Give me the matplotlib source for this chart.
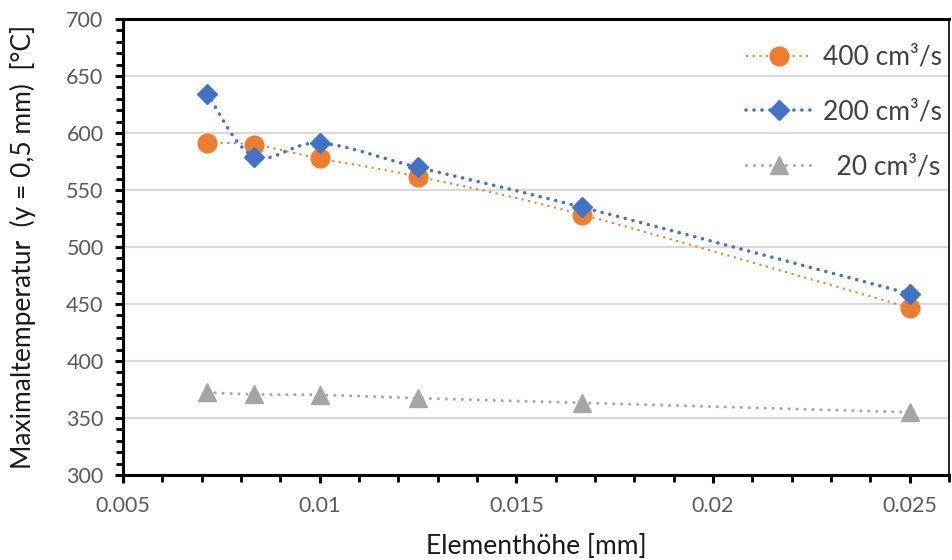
import numpy as np
import matplotlib
matplotlib.use("Agg")
import matplotlib.pyplot as plt
from matplotlib.ticker import MultipleLocator, FuncFormatter

plt.rcParams['font.family'] = ['Lato', 'DejaVu Sans']

# Element height [mm]
element_height = [0.00714, 0.00833, 0.01, 0.0125, 0.01667, 0.025]

# Maximum temperature at y = 0.5 mm [°C] per flow rate
t_400 = [591.5, 589.7, 577.7, 561.7, 528.4, 446.8]
t_200 = [634.6, 579.2, 591.2, 569.9, 534.9, 459.0]
t_20 = [372.4, 370.7, 370.3, 367.4, 363.3, 355.0]

series_labels = ["400 cm³/s", "200 cm³/s", "  20 cm³/s"]

x_label = "Elementhöhe [mm]"
y_label = "Maximaltemperatur  (y = 0,5 mm)  [°C]"

fig = plt.figure(figsize=(9.52, 5.6), dpi=100)
ax = fig.add_axes([123 / 952, 1 - 475 / 560, (949 - 123) / 952, (475 - 19) / 560])
ax.set_xlim(0.005, 0.026)
ax.set_ylim(300, 700)


def smooth(ax, xs, ys, n=40):
    """Bezier smoothing in display space (cardinal spline, tension 1/6)."""
    pts = ax.transData.transform(np.column_stack([xs, ys]))
    out = [pts[0]]
    m = len(pts)
    for i in range(m - 1):
        p0 = pts[i - 1] if i > 0 else pts[i]
        p1 = pts[i]
        p2 = pts[i + 1]
        p3 = pts[i + 2] if i + 2 < m else pts[i + 1]
        c1 = p1 + (p2 - p0) / 6.0
        c2 = p2 - (p3 - p1) / 6.0
        t = np.linspace(0, 1, n)[1:, None]
        seg = ((1 - t) ** 3) * p1 + 3 * ((1 - t) ** 2) * t * c1 + 3 * (1 - t) * t ** 2 * c2 + t ** 3 * p2
        out.extend(seg)
    out = np.array(out)
    data = ax.transData.inverted().transform(out)
    return data[:, 0], data[:, 1]


styles = [
    dict(color="#ED7D31", lw=1.5, ls=(0, (1.0, 2.2)), cap="butt", marker="o", ms=13.5),
    dict(color="#4472C4", lw=2.6, ls=(0, (0.01, 2.2)), cap="round", marker="D", ms=10.0),
    dict(color="#A5A5A5", lw=2.2, ls=(0, (0.01, 2.6)), cap="round", marker="^", ms=12.5),
]

handles = []
for ys, st, lab, z in zip([t_400, t_200, t_20], styles, series_labels, [3, 4, 5]):
    sx, sy = smooth(ax, element_height, ys)
    ax.plot(sx, sy, color=st["color"], lw=st["lw"], ls=st["ls"],
            dash_capstyle=st["cap"], zorder=z)
    ax.plot(element_height, ys, ls="none", marker=st["marker"], ms=st["ms"],
            color=st["color"], mec=st["color"], zorder=z + 0.5)
    h, = ax.plot([], [], color=st["color"], lw=st["lw"], ls=st["ls"],
                 dash_capstyle=st["cap"], marker=st["marker"], ms=st["ms"],
                 mec=st["color"], label=lab)
    handles.append(h)

ax.yaxis.set_major_locator(MultipleLocator(50))
ax.yaxis.set_minor_locator(MultipleLocator(10))
ax.xaxis.set_major_locator(MultipleLocator(0.005))
ax.xaxis.set_minor_locator(MultipleLocator(0.001))
ax.xaxis.set_major_formatter(FuncFormatter(lambda v, p: f"{v:g}"))

ax.grid(axis="y", which="major", color="#D9D9D9", lw=1.5, zorder=0)
ax.set_axisbelow(True)

for s in ax.spines.values():
    s.set_color("black")
    s.set_linewidth(2.2)
ax.spines["right"].set_linewidth(1.2)

ax.tick_params(which="major", direction="out", length=6, width=2.2, color="black",
               labelsize=15.5, labelcolor="#595959", pad=8)
ax.tick_params(which="minor", direction="out", length=5, width=2.0, color="black")
ax.tick_params(axis="x", which="major", pad=9)

ax.set_xlabel(x_label, fontsize=19, color="#1A1A1A", labelpad=13)
ax.set_ylabel(y_label, fontsize=19, color="#1A1A1A", labelpad=22)

leg = ax.legend(handles=handles, loc="upper right", bbox_to_anchor=(942 / 952, 1 - 45 / 560),
                bbox_transform=fig.transFigure, frameon=False, fontsize=19,
                handlelength=2.5, handletextpad=0.4, labelspacing=1.12, numpoints=1,
                borderaxespad=0, borderpad=0)
for t in leg.get_texts():
    t.set_color("#404040")

fig.savefig("out.png", dpi=100)
